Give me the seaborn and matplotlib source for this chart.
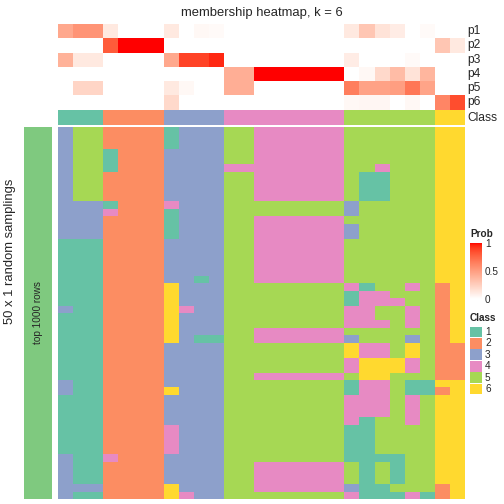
import numpy as np
import matplotlib
matplotlib.use("Agg")
import matplotlib.pyplot as plt
from matplotlib.colors import ListedColormap
from matplotlib.patches import Rectangle
import seaborn as sns

# ---------------- data ----------------
title = "membership heatmap, k = 6"
prob_rows = ["p1", "p2", "p3", "p4", "p5", "p6"]
class_labels = ["1", "2", "3", "4", "5", "6"]

p1 = [0.45, 0.55, 0.55, 0.12, 0, 0, 0, 0.12, 0, 0.04, 0.03, 0, 0, 0, 0, 0, 0, 0, 0, 0.12, 0.30, 0.15, 0.10, 0, 0.03, 0, 0]
p2 = [0, 0, 0, 0.80, 1, 1, 1, 0, 0, 0, 0, 0, 0, 0, 0, 0, 0, 0, 0, 0, 0, 0, 0, 0, 0, 0.30, 0.12]
p3 = [0.40, 0.12, 0.12, 0, 0, 0, 0, 0.45, 0.88, 0.88, 0.95, 0, 0, 0, 0, 0, 0, 0, 0, 0.10, 0, 0, 0, 0.03, 0, 0, 0]
p4 = [0, 0, 0, 0, 0, 0, 0, 0, 0, 0, 0, 0.42, 0.42, 1, 1, 1, 1, 1, 1, 0, 0.04, 0.20, 0.35, 0.15, 0.38, 0, 0]
p5 = [0, 0.22, 0.22, 0, 0, 0, 0, 0.12, 0.04, 0, 0, 0.42, 0.42, 0, 0, 0, 0, 0, 0, 0.65, 0.48, 0.48, 0.50, 0.68, 0.47, 0, 0]
p6 = [0, 0, 0, 0, 0, 0, 0, 0.20, 0, 0, 0, 0, 0, 0, 0, 0, 0, 0, 0, 0.04, 0.05, 0.05, 0, 0.04, 0, 0.62, 0.85]

column_class = [1, 1, 1, 2, 2, 2, 2, 3, 3, 3, 3, 4, 4, 4, 4, 4, 4, 4, 4, 5, 5, 5, 5, 5, 5, 6, 6]

# 50 random samplings (rows) x 27 samples (columns), class labels
samplings = [
    "355222213335544444455555566",
    "355222213335544444455555566",
    "355222213335544444455555566",
    "355122233335544444455555566",
    "355122233335544444455555566",
    "355122233334444444455455566",
    "355222233335544444451155566",
    "355222233335544444451155566",
    "355222233335544444451155566",
    "355222233335544444451155566",
    "333122243335555555535555566",
    "333422213335555555535555566",
    "333222213335544444455555566",
    "333222213335544444435555566",
    "333222213335544444435555566",
    "111222233335544444455555566",
    "111222233335544444455555566",
    "111222233335544444455555566",
    "111222233335544444455555566",
    "111222233335544444455555566",
    "111222233135544444455555566",
    "111222263335555555541554526",
    "111222263335555555514455526",
    "111222263335555555514445526",
    "311222264335555555544554526",
    "111222263335555555544554526",
    "111222263335555555544454526",
    "111222263335544444455555526",
    "111222263115544444435553526",
    "111222233335555555564456522",
    "111222233335555555564456522",
    "111222233335555555546664522",
    "111222233335555555546664522",
    "111222233335544444456655522",
    "311222233335555555514451166",
    "311222263335555555514451126",
    "111222233335555555544454566",
    "111222233335555555544454566",
    "111222233335555555544454566",
    "111222233335555555541554566",
    "111222243335555555511555566",
    "111222243335555555511555566",
    "111222243335555555511555566",
    "111222243335555555511555566",
    "311422233335555555511115566",
    "311222233335544444451515566",
    "311222233335544444451515566",
    "311222233335544444451515566",
    "333222263335544444431155526",
    "311222264335555555541114126",
]

# ---------------- styling ----------------
W = H = 504
sns.set_style("white")
plt.rcParams["font.family"] = ["Liberation Sans", "DejaVu Sans"]

set2 = sns.color_palette("Set2", 6)
class_cmap = ListedColormap(set2)


def lab_white_red(n=256):
    t = np.linspace(0, 1, n)
    L = 100 + (53.24 - 100) * t
    a = 80.09 * t
    b = 67.20 * t
    fy = (L + 16) / 116
    fx = fy + a / 500
    fz = fy - b / 200

    def finv(v):
        return np.where(v > 6 / 29, v ** 3, 3 * (6 / 29) ** 2 * (v - 4 / 29))

    X = 0.95047 * finv(fx)
    Y = finv(fy)
    Z = 1.08883 * finv(fz)
    r = 3.2404542 * X - 1.5371385 * Y - 0.4985314 * Z
    g = -0.9692660 * X + 1.8760108 * Y + 0.0415560 * Z
    bb = 0.0556434 * X - 0.2040259 * Y + 1.0572252 * Z
    rgb = np.clip(np.stack([r, g, bb], -1), 0, 1)
    rgb = np.where(rgb <= 0.0031308, 12.92 * rgb, 1.055 * rgb ** (1 / 2.4) - 0.055)
    return ListedColormap(np.clip(rgb, 0, 1))


prob_cmap = lab_white_red()

fig = plt.figure(figsize=(W / 72, H / 72), dpi=72)


def px_axes(x0, y0, x1, y1):
    return fig.add_axes([x0 / W, 1 - y1 / H, (x1 - x0) / W, (y1 - y0) / H])


def clean(ax):
    ax.set_xlabel("")
    ax.set_ylabel("")
    ax.set_xticks([])
    ax.set_yticks([])


prob = np.array([p1, p2, p3, p4, p5, p6])
main = np.array([[int(ch) for ch in row] for row in samplings])

# probability heatmap
ax_p = px_axes(58, 24, 465, 109.5)
sns.heatmap(prob, ax=ax_p, cmap=prob_cmap, vmin=0, vmax=1, cbar=False,
            xticklabels=False, yticklabels=False, linewidths=0)
clean(ax_p)

# class annotation row
ax_c = px_axes(58, 110, 465, 124.5)
sns.heatmap(np.array([column_class]), ax=ax_c, cmap=class_cmap, vmin=0.5, vmax=6.5,
            cbar=False, xticklabels=False, yticklabels=False, linewidths=0)
clean(ax_c)

# main heatmap
ax_m = px_axes(58, 127, 465, 499)
sns.heatmap(main, ax=ax_m, cmap=class_cmap, vmin=0.5, vmax=6.5, cbar=False,
            xticklabels=False, yticklabels=False, linewidths=0)
clean(ax_m)

# left group bar
ax_g = px_axes(24, 127, 52, 499)
sns.heatmap(np.ones((len(samplings), 1)), ax=ax_g, cmap=ListedColormap(["#7FC97F"]),
            cbar=False, xticklabels=False, yticklabels=False, linewidths=0)
clean(ax_g)
ax_g.text(0.5, (313 - 127) / (499 - 127), "top 1000 rows", transform=ax_g.transAxes,
          rotation=90, ha="center", va="center", fontsize=10)

# texts
fig.text(261.5 / W, 1 - 13 / H, title, ha="center", va="center", fontsize=13)
fig.text(10 / W, 1 - 251 / H, "50 x 1 random samplings", rotation=90,
         ha="center", va="center", fontsize=13)
row_h = (109.5 - 24) / 6
for i, lab in enumerate(prob_rows):
    fig.text(467 / W, 1 - (24 + row_h * (i + 0.5)) / H, lab, ha="left", va="center", fontsize=12)
fig.text(467 / W, 1 - 117.5 / H, "Class", ha="left", va="center", fontsize=12)

# Prob legend
fig.text(470 / W, 1 - 234 / H, "Prob", ha="left", va="center", fontsize=10, fontweight="bold")
cax = px_axes(470, 243, 482, 299)
cb = fig.colorbar(ax_p.collections[0], cax=cax, ticks=[0, 0.5, 1])
cb.outline.set_visible(False)
cb.set_ticklabels(["0", "0.5", "1"])
cax.tick_params(left=True, right=True, direction="in", color="white", length=2.5,
                width=0.8, labelsize=10, pad=3)

# Class legend
fig.text(470 / W, 1 - 318 / H, "Class", ha="left", va="center", fontsize=10, fontweight="bold")
ax_l = px_axes(470, 326, 504, 396)
ax_l.set_xlim(0, 34)
ax_l.set_ylim(70, 0)
ax_l.axis("off")
step = 11.4
for i, (lab, col) in enumerate(zip(class_labels, set2)):
    ax_l.add_patch(Rectangle((0, i * step + 0.5), 12, step - 0.6, facecolor=col, edgecolor="none"))
    ax_l.text(15, i * step + step / 2 + 0.3, lab, ha="left", va="center", fontsize=10)

fig.savefig("out.png", dpi=72)
